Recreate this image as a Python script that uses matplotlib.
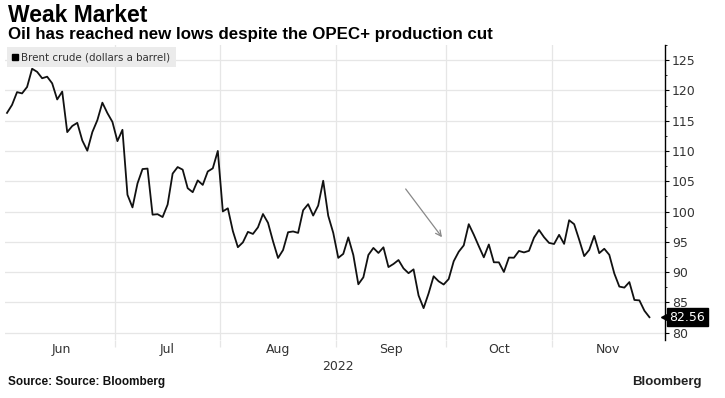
import matplotlib
matplotlib.use("Agg")
import matplotlib.pyplot as plt
from matplotlib.lines import Line2D
import pandas as pd
import numpy as np

# ---- data ----
dates = pd.bdate_range("2022-06-01", "2022-11-28")
prices_jun = [116.29, 117.61, 119.72, 119.51, 120.57, 123.58, 123.07, 122.01, 122.27, 121.17,
              118.51, 119.81, 113.12, 114.13, 114.65, 111.74, 110.05, 113.12, 115.09, 117.98,
              116.26, 114.81]
prices_jul = [111.63, 113.50, 102.77, 100.69, 104.65, 107.02, 107.10, 99.49, 99.57, 99.10,
              101.16, 106.27, 107.35, 106.92, 103.86, 103.20, 105.15, 104.40, 106.62, 107.14,
              110.01]
prices_aug = [100.03, 100.54, 96.78, 94.12, 94.92, 96.65, 96.31, 97.40, 99.60, 98.15,
              95.10, 92.34, 93.65, 96.59, 96.72, 96.48, 100.22, 101.22, 99.34, 100.99,
              105.09, 99.31, 96.49]
prices_sep = [92.36, 93.02, 95.74, 92.83, 88.00, 89.15, 92.84, 94.00, 93.17, 94.10,
              90.84, 91.35, 92.00, 90.62, 89.83, 90.46, 86.15, 84.06, 86.50, 89.32,
              88.49, 87.96]
prices_oct = [88.86, 91.80, 93.37, 94.42, 97.92, 96.19, 94.29, 92.45, 94.57, 91.63,
              91.62, 90.03, 92.41, 92.38, 93.50, 93.26, 93.52, 95.69, 96.96, 95.77,
              94.83]
prices_nov = [94.65, 96.16, 94.67, 98.57, 97.92, 95.36, 92.65, 93.67, 95.99, 93.14,
              93.86, 92.86, 89.78, 87.62, 87.45, 88.36, 85.41, 85.34, 83.63, 82.56]
prices = prices_jun + prices_jul + prices_aug + prices_sep + prices_oct + prices_nov
month_labels = ["Jun", "Jul", "Aug", "Sep", "Oct", "Nov"]
year_label = "2022"
y_ticks = [80, 85, 90, 95, 100, 105, 110, 115, 120, 125]
last_value = prices[-1]
series_name = "Brent crude (dollars a barrel)"
title = "Weak Market"
subtitle = "Oil has reached new lows despite the OPEC+ production cut"
source = "Source: Source: Bloomberg"

NARROW = ["Liberation Sans Narrow", "DejaVu Sans"]
TITLEF = ["Liberation Sans", "DejaVu Sans"]

# ---- figure ----
W, H = 725, 398
fig = plt.figure(figsize=(W / 100, H / 100), dpi=100)
ax = fig.add_axes([5 / W, 1 - 340 / H, 660 / W, 295 / H])

idx = np.arange(len(dates))
ax.plot(idx, prices, color="#111111", lw=1.3, zorder=3)

ax.set_xlim(-0.4, 131.1)
ax.set_ylim(78.8, 127.5)

# month boundaries (trading-day index)
months = dates.to_period("M")
bounds = [i - 0.5 for i in range(1, len(dates)) if months[i] != months[i - 1]]
edges = [ax.get_xlim()[0]] + bounds + [ax.get_xlim()[1]]
centers = [(edges[k] + edges[k + 1]) / 2 for k in range(len(edges) - 1)]
centers[0] = (0 + bounds[0]) / 2

for b in bounds:
    ax.axvline(b, color="#e6e6e6", lw=0.9, zorder=1)
for yv in y_ticks:
    ax.axhline(yv, color="#e6e6e6", lw=0.9, zorder=1)

ax.set_xticks(bounds)
ax.set_xticklabels([])
ax.tick_params(axis="x", which="major", length=5, color="#e6e6e6", width=0.9)
ax.set_xticks(centers, minor=True)
ax.set_xticklabels(month_labels, minor=True)
ax.tick_params(axis="x", which="minor", length=0, pad=2, labelsize=9, labelcolor="#333333")
for lbl in ax.get_xticklabels(minor=True):
    lbl.set_family(NARROW)

ax.yaxis.tick_right()
ax.set_yticks(y_ticks)
ax.set_yticks(np.arange(82.5, 127.6, 5), minor=True)
ax.tick_params(axis="y", which="major", direction="out", length=3, width=0.8,
               pad=2, labelsize=9, labelcolor="#333333")
ax.tick_params(axis="y", which="minor", direction="out", length=1.5, width=0.6)
for lbl in ax.get_yticklabels():
    lbl.set_family(NARROW)

for s in ["top", "left", "bottom"]:
    ax.spines[s].set_visible(False)
ax.spines["right"].set_color("black")
ax.spines["right"].set_linewidth(1.0)

fig.text(338 / W, 1 - 366 / H, year_label, ha="center", va="center",
         fontsize=9, color="#333333", family=NARROW)

# legend
handle = Line2D([], [], marker="s", color="black", linestyle="None", markersize=5)
leg = ax.legend([handle], [series_name], loc="upper left", bbox_to_anchor=(0.0, 1.0),
                frameon=True, fancybox=False, handlelength=0.6, handletextpad=0.3,
                borderpad=0.5, borderaxespad=0.2, prop={"size": 7.4, "family": NARROW})
leg.get_frame().set_facecolor("#ebebeb")
leg.get_frame().set_edgecolor("none")
leg.get_frame().set_alpha(1)
for t in leg.get_texts():
    t.set_color("#333333")

# arrow
ax.annotate("", xy=(87.0, 95.4), xytext=(79.1, 104.1),
            arrowprops=dict(arrowstyle="->", color="#888888", lw=0.9,
                            mutation_scale=10))

# last value label
ytrans = ax.get_yaxis_transform()
ax.plot([1.0], [last_value], marker="<", color="black", markersize=6,
        transform=ytrans, clip_on=False, zorder=5)
ax.text(1.007, last_value, f"{last_value:.2f}", transform=ytrans, ha="left", va="center",
        fontsize=9, color="white", family=NARROW,
        bbox=dict(boxstyle="square,pad=0.2", fc="black", ec="black"), zorder=6)

# titles
fig.text(8 / W, 1 - 22 / H, title, ha="left", va="baseline", fontsize=16.5,
         fontweight="bold", color="black", family=TITLEF)
fig.text(8 / W, 1 - 39 / H, subtitle, ha="left", va="baseline", fontsize=12.2,
         fontweight="bold", color="black", family=TITLEF)
fig.text(8 / W, 1 - 385 / H, source, ha="left", va="baseline", fontsize=8.5,
         fontweight="bold", color="#111111", family=TITLEF)
fig.text(702 / W, 1 - 385 / H, "Bloomberg", ha="right", va="baseline", fontsize=9.5,
         fontweight="bold", color="#222222", family=TITLEF)

fig.savefig("out.png", dpi=100, facecolor="white")
